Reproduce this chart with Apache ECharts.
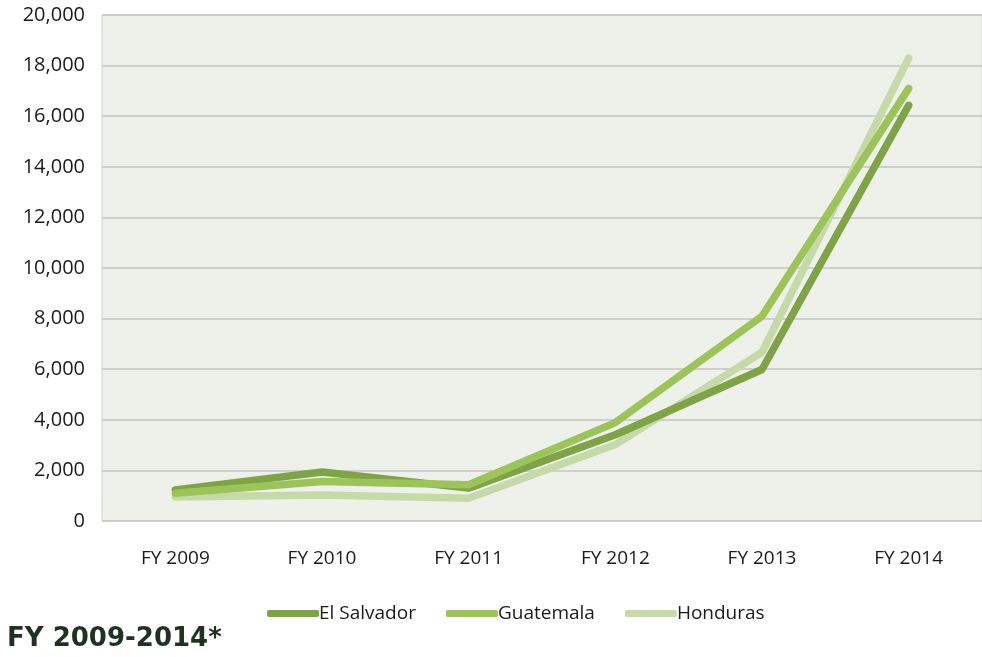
<!DOCTYPE html>
<html>
<head>
<meta charset="utf-8">
<script src="https://cdn.jsdelivr.net/npm/echarts@6/dist/echarts.min.js"></script>
<style>
html,body{margin:0;padding:0;background:#ffffff;}
#chart{width:982px;height:657px;}
</style>
</head>
<body>
<div id="chart"></div>
<script>
const categories = ['FY 2009','FY 2010','FY 2011','FY 2012','FY 2013','FY 2014'];
const elSalvador = [1230, 1940, 1300, 3410, 5990, 16430];
const guatemala  = [1100, 1560, 1430, 3890, 8090, 17100];
const honduras   = [950, 1030, 900, 3020, 6670, 18290];
const yTicks = [0, 2000, 4000, 6000, 8000, 10000, 12000, 14000, 16000, 18000, 20000];
const titleText = 'FY 2009-2014*';

const chart = echarts.init(document.getElementById('chart'));
const font = "'Open Sans', 'DejaVu Sans Condensed', sans-serif";
function mk(name, data, color) {
  return {
    name: name, type: 'line', data: data, symbol: 'none',
    lineStyle: {width: 7.5, color: color, cap: 'round', join: 'round'},
    itemStyle: {color: color}
  };
}
chart.setOption({
  backgroundColor: '#ffffff',
  animation: false,
  title: {
    text: titleText, left: 2, top: 621,
    textStyle: {fontFamily: "'DejaVu Sans', sans-serif", fontWeight: 'bold', fontSize: 26, color: '#1f3220'}
  },
  legend: {
    top: 599, left: 262,
    itemWidth: 52, itemHeight: 7, itemGap: 30,
    icon: 'roundRect',
    textStyle: {fontFamily: font, fontSize: 19, color: '#1a1a1a', padding: [0,0,0,-5]},
    data: ['El Salvador','Guatemala','Honduras']
  },
  grid: {left: 102, right: -8, top: 15, bottom: 136, show: true, backgroundColor: '#eef1ea', borderColor: '#cfd2cc', borderWidth: 1},
  xAxis: {
    type: 'category', data: categories, boundaryGap: true,
    axisLine: {show: false}, axisTick: {show: false},
    axisLabel: {fontFamily: font, fontSize: 19, color: '#1a1a1a', margin: 28}
  },
  yAxis: {
    type: 'value', min: 0, max: 20000, interval: 2000,
    axisLine: {show: false}, axisTick: {show: false},
    splitLine: {lineStyle: {color: '#c4c4c4', width: 1.5}},
    axisLabel: {fontFamily: font, fontSize: 20, color: '#1a1a1a', margin: 17,
      formatter: v => yTicks.includes(v) ? v.toLocaleString('en-US') : ''}
  },
  series: [
    mk('Honduras', honduras, '#c6d9a8'),
    mk('El Salvador', elSalvador, '#7fa347'),
    mk('Guatemala', guatemala, '#9dc45b')
  ]
});
</script>
</body>
</html>
